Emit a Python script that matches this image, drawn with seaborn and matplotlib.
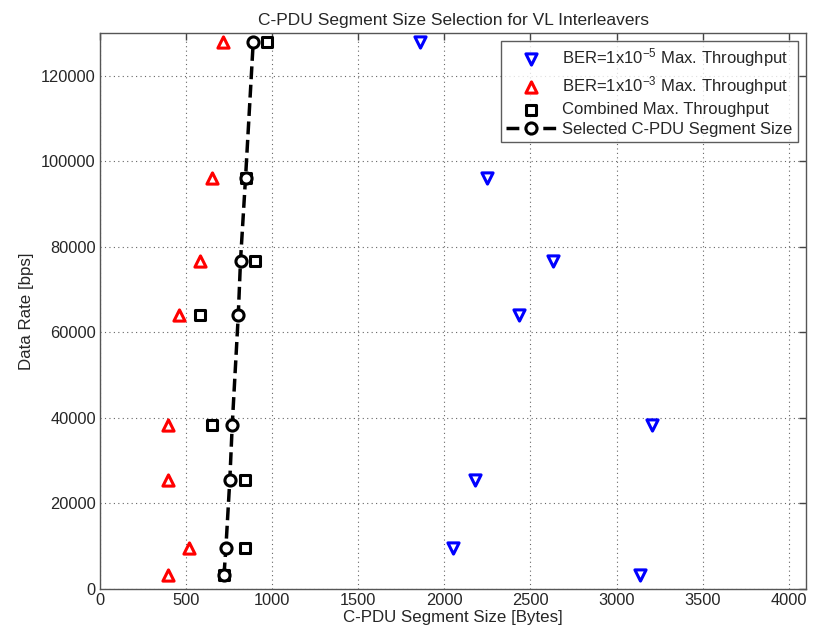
import matplotlib
matplotlib.use("Agg")
import matplotlib.pyplot as plt
import seaborn as sns
import pandas as pd

# Data rates of the VL interleavers [bps]
data_rate = [3200, 9600, 25600, 38400, 64000, 76800, 96000, 128000]

# Segment sizes giving maximum throughput [Bytes]
ber_1e5_size = [3135, 2052, 2180, 3203, 2433, 2629, 2246, 1860]
ber_1e3_size = [396, 518, 396, 393, 458, 580, 648, 716]
combined_size = [720, 841, 841, 648, 580, 903, 845, 967]
selected_size = [720, 731, 754, 768, 803, 816, 845, 890]

x_ticks = [0, 500, 1000, 1500, 2000, 2500, 3000, 3500, 4000]
y_ticks = [0, 20000, 40000, 60000, 80000, 100000, 120000]

sns.set_style("white")
plt.rcParams["font.family"] = ["Liberation Sans", "DejaVu Sans"]
plt.rcParams["mathtext.fontset"] = "custom"
plt.rcParams["mathtext.rm"] = "Liberation Sans"
plt.rcParams["mathtext.it"] = "Liberation Sans"

fig = plt.figure(figsize=(8.17, 6.36), dpi=100)
ax = fig.add_axes([100 / 817, 1 - 589 / 636, 706 / 817, 556 / 636])

df = pd.DataFrame({
    "rate": data_rate,
    "ber5": ber_1e5_size,
    "ber3": ber_1e3_size,
    "comb": combined_size,
    "sel": selected_size,
})

sns.scatterplot(data=df, x="ber5", y="rate", marker="v", s=65,
                facecolor="white", edgecolor="#0000ff", linewidth=2.2,
                label="BER=1x10$^{-5}$ Max. Throughput", ax=ax, zorder=3)
sns.scatterplot(data=df, x="ber3", y="rate", marker="^", s=65,
                facecolor="white", edgecolor="#ff0000", linewidth=2.2,
                label="BER=1x10$^{-3}$ Max. Throughput", ax=ax, zorder=3)
sns.scatterplot(data=df, x="comb", y="rate", marker="s", s=50,
                facecolor="white", edgecolor="black", linewidth=2.2,
                label="Combined Max. Throughput", ax=ax, zorder=3)
sns.lineplot(data=df, x="sel", y="rate", sort=False, estimator=None,
             color="black", linestyle="--", linewidth=2.5,
             marker="o", markersize=8, markerfacecolor="white",
             markeredgecolor="black", markeredgewidth=2.2,
             label="Selected C-PDU Segment Size", ax=ax, zorder=4)

ax.set_xlim(0, 4100)
ax.set_ylim(0, 130000)
ax.set_xticks(x_ticks)
ax.set_yticks(y_ticks)
ax.set_xticklabels([str(v) for v in x_ticks])
ax.set_yticklabels([str(v) for v in y_ticks])

ax.grid(True, linestyle=(0, (1, 3)), color="#666666", linewidth=0.8)
ax.tick_params(direction="in", top=True, right=True, length=5,
               width=1, color="#444444", labelsize=11.8, pad=3)
for sp in ax.spines.values():
    sp.set_color("#555555")
    sp.set_linewidth(1.0)

ax.set_xlabel("C-PDU Segment Size [Bytes]", fontsize=12.2, labelpad=1)
ax.set_ylabel("Data Rate [bps]", fontsize=12.2, labelpad=5)
ax.set_title("C-PDU Segment Size Selection for VL Interleavers", fontsize=12.5, pad=6)

leg = ax.legend(loc="upper right", fontsize=12, frameon=True, fancybox=False,
                handlelength=3.0, handletextpad=0.4, borderaxespad=0.5,
                labelspacing=0.3, borderpad=0.3)
leg.get_frame().set_edgecolor("#333333")
leg.get_frame().set_linewidth(1.0)

fig.savefig("out.png", dpi=100, facecolor="white")
